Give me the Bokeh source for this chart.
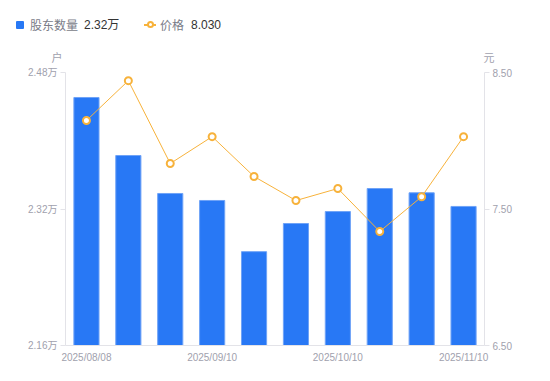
from bokeh.plotting import figure
from bokeh.models import (Range1d, LinearAxis, FixedTicker, ColumnDataSource, Div)
from bokeh.layouts import column
from bokeh.embed import file_html
from bokeh.resources import INLINE

dates = ["2025/08/08", "2025/08/20", "2025/08/29", "2025/09/10", "2025/09/19",
         "2025/09/30", "2025/10/10", "2025/10/20", "2025/10/31", "2025/11/10"]
holders = [24507, 23827, 23382, 23300, 22700, 23030, 23170, 23440, 23390, 23230]
price = [8.148, 8.440, 7.833, 8.030, 7.738, 7.562, 7.650, 7.335, 7.590, 8.030]
left_ticks = [21600, 23200, 24800]
right_ticks = [6.5, 7.5, 8.5]
shown_dates = [0, 3, 6, 9]
series_names = ["股东数量", "价格"]
unit_names = ["户", "元"]

BLUE = "#2878f5"
ORANGE = "#f7b23b"
GRAY_TXT = "#9fa1ad"
AXIS_LINE = "#e3e3e8"
FONT = "Liberation Sans, Noto Sans CJK SC"
CJK = "Noto Sans CJK SC"
HEAD = 66

n = len(dates)
xs = [i + 0.5 for i in range(n)]
src = ColumnDataSource(dict(x=xs, h=holders, p=price))

p = figure(width=534, height=365 - HEAD, output_backend="svg", toolbar_location=None,
           x_range=Range1d(0, n), y_range=Range1d(left_ticks[0], left_ticks[-1]),
           min_border_left=65, min_border_right=50, min_border_top=72 - HEAD,
           min_border_bottom=20, margin=0)
p.frame_width = 419
p.frame_height = 273
p.grid.visible = False
p.outline_line_color = None
p.extra_y_ranges = {"price": Range1d(right_ticks[0], right_ticks[-1])}

p.vbar(x="x", top="h", bottom=left_ticks[0], width=0.6, source=src,
       fill_color=BLUE, line_color="#6fa3f7", line_width=1)
p.line(x="x", y="p", source=src, y_range_name="price", line_color=ORANGE, line_width=1)
p.scatter(x="x", y="p", source=src, y_range_name="price", size=7, marker="circle",
          fill_color="white", line_color=ORANGE, line_width=2)

def style(ax):
    ax.axis_line_color = AXIS_LINE
    ax.major_tick_line_color = AXIS_LINE
    ax.minor_tick_line_color = None
    ax.major_tick_in = 0
    ax.major_label_text_color = GRAY_TXT
    ax.major_label_text_font = FONT
    ax.major_label_text_font_size = "10px"

ly = p.yaxis[0]
ly.ticker = FixedTicker(ticks=left_ticks)
ly.major_label_overrides = {t: f"{t/10000:.2f}万" for t in left_ticks}
style(ly)
ly.major_tick_out = 5
ly.major_label_standoff = 3

ry = LinearAxis(y_range_name="price", ticker=FixedTicker(ticks=right_ticks))
ry.major_label_overrides = {t: f"{t:.2f}" for t in right_ticks}
style(ry)
ry.major_tick_out = 5
ry.major_label_standoff = 3
p.add_layout(ry, "right")

bx = p.xaxis[0]
bx.ticker = FixedTicker(ticks=[xs[i] for i in shown_dates])
bx.major_label_overrides = {xs[i]: dates[i] for i in shown_dates}
style(bx)
bx.major_tick_out = 0
bx.major_label_standoff = 6

# ---- header: legend row and unit labels (HTML, positions in px) ----
def span(left, center_y, text, color, size=12, font=CJK, align_center=False, lh=16):
    tx = "transform:translateX(-50%);" if align_center else ""
    return (f'<span style="position:absolute;left:{left}px;top:{center_y - lh / 2}px;'
            f'line-height:{lh}px;height:{lh}px;font-family:{font};font-size:{size}px;'
            f'color:{color};white-space:nowrap;{tx}">{text}</span>')

ROW = 25
html = f'<div style="position:relative;width:534px;height:{HEAD}px;">'
html += ('<span style="position:absolute;display:block;left:16px;top:21px;width:8px;'
         f'height:8px;border-radius:1px;background:{BLUE};"></span>')
html += span(30, ROW, series_names[0], "#7a7c88")
html += span(84, ROW, f"{holders[-1]/10000:.2f}万", "#333333", font=FONT)
html += ('<span style="position:absolute;display:block;left:144px;top:24px;width:12px;'
         f'height:1.5px;background:{ORANGE};"></span>')
html += ('<span style="position:absolute;display:block;box-sizing:border-box;left:146.5px;'
         f'top:21.25px;width:7px;height:7px;border:2px solid {ORANGE};border-radius:50%;'
         'background:white;"></span>')
html += span(160, ROW, series_names[1], "#7a7c88")
html += span(191, ROW, f"{price[-1]:.3f}", "#333333", font=FONT)
html += span(57, 57, unit_names[0], GRAY_TXT, size=11, align_center=True, lh=14)
html += span(489, 57, unit_names[1], GRAY_TXT, size=11, align_center=True, lh=14)
html += '</div>'

head = Div(text=html, width=534, height=HEAD, margin=0)

layout = column(head, p, spacing=0, margin=0)
open("out.html", "w").write(file_html(layout, INLINE))
